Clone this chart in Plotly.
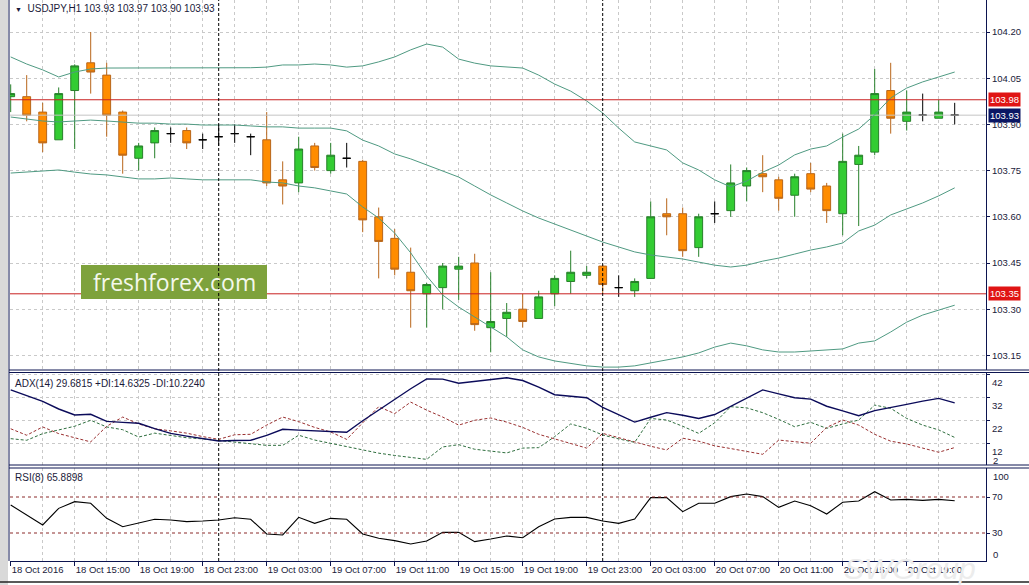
import plotly.graph_objects as go
import pandas as pd

# ---------------- data ----------------
bar_start = "2016-10-18 11:00"

open_ = [103.99, 103.99, 103.94, 103.85, 104.01, 104.10, 104.06, 103.94, 103.79, 103.84,
         103.87, 103.88, 103.85, 103.86, 103.87, 103.86, 103.85, 103.72, 103.71, 103.83,
         103.75, 103.79, 103.78, 103.60, 103.53, 103.42, 103.35, 103.37, 103.43, 103.45,
         103.24, 103.27, 103.30, 103.27, 103.35, 103.39, 103.41, 103.44, 103.37, 103.36,
         103.40, 103.61, 103.61, 103.50, 103.61, 103.62, 103.70, 103.74, 103.72, 103.67,
         103.74, 103.70, 103.61, 103.77, 103.81, 104.01, 103.91, 103.93, 103.92, 103.93]
high = [104.03, 104.06, 103.97, 104.02, 104.095, 104.20, 104.10, 103.945, 103.84, 103.89,
        103.89, 103.89, 103.87, 103.90, 103.90, 103.87, 103.94, 103.78, 103.86, 103.84,
        103.84, 103.84, 103.785, 103.63, 103.56, 103.50, 103.385, 103.45, 103.47, 103.48,
        103.42, 103.32, 103.35, 103.36, 103.41, 103.49, 103.44, 103.445, 103.41, 103.40,
        103.65, 103.66, 103.63, 103.61, 103.65, 103.77, 103.76, 103.80, 103.73, 103.74,
        103.775, 103.71, 103.87, 103.83, 104.08, 104.10, 104.01, 104.00, 103.98, 103.97]
low = [103.94, 103.91, 103.81, 103.85, 103.82, 104.00, 103.86, 103.74, 103.75, 103.79,
       103.84, 103.82, 103.82, 103.83, 103.84, 103.80, 103.70, 103.64, 103.68, 103.75,
       103.74, 103.76, 103.55, 103.40, 103.41, 103.24, 103.24, 103.30, 103.33, 103.23,
       103.16, 103.21, 103.24, 103.27, 103.31, 103.35, 103.40, 103.35, 103.34, 103.34,
       103.40, 103.54, 103.47, 103.47, 103.58, 103.60, 103.65, 103.68, 103.62, 103.60,
       103.68, 103.58, 103.54, 103.57, 103.80, 103.87, 103.88, 103.91, 103.92, 103.90]
close = [104.00, 103.93, 103.84, 104.00, 104.09, 104.07, 103.93, 103.80, 103.83, 103.88,
         103.87, 103.84, 103.85, 103.86, 103.87, 103.86, 103.71, 103.70, 103.82, 103.76,
         103.80, 103.79, 103.59, 103.52, 103.43, 103.36, 103.38, 103.44, 103.44, 103.25,
         103.26, 103.29, 103.26, 103.34, 103.40, 103.42, 103.42, 103.38, 103.37, 103.39,
         103.60, 103.60, 103.49, 103.60, 103.61, 103.71, 103.75, 103.73, 103.66, 103.73,
         103.69, 103.62, 103.78, 103.80, 104.00, 103.92, 103.94, 103.93, 103.94, 103.93]

bb_upper = [104.119, 104.096, 104.077, 104.054, 104.070, 104.080, 104.083, 104.083, 104.083, 104.083,
            104.082, 104.083, 104.083, 104.083, 104.084, 104.084, 104.086, 104.093, 104.093, 104.096,
            104.093, 104.086, 104.090, 104.103, 104.119, 104.142, 104.161, 104.151, 104.112, 104.099,
            104.090, 104.086, 104.083, 104.060, 104.031, 104.008, 103.976, 103.937, 103.888, 103.843,
            103.830, 103.817, 103.775, 103.752, 103.720, 103.697, 103.716, 103.745, 103.768, 103.801,
            103.820, 103.830, 103.859, 103.885, 103.931, 103.986, 104.018, 104.038, 104.054, 104.070]
bb_middle = [103.924, 103.917, 103.911, 103.908, 103.911, 103.914, 103.911, 103.908, 103.904, 103.904,
             103.901, 103.901, 103.898, 103.898, 103.898, 103.895, 103.892, 103.892, 103.888, 103.888,
             103.888, 103.879, 103.849, 103.830, 103.804, 103.788, 103.768, 103.749, 103.729, 103.700,
             103.671, 103.645, 103.619, 103.596, 103.577, 103.557, 103.538, 103.518, 103.502, 103.486,
             103.476, 103.469, 103.463, 103.453, 103.443, 103.437, 103.443, 103.456, 103.466, 103.479,
             103.492, 103.502, 103.515, 103.554, 103.573, 103.606, 103.625, 103.645, 103.668, 103.694]
bb_lower = [103.742, 103.745, 103.749, 103.752, 103.745, 103.739, 103.736, 103.729, 103.723, 103.723,
            103.726, 103.723, 103.720, 103.720, 103.720, 103.720, 103.713, 103.710, 103.700, 103.694,
            103.684, 103.674, 103.632, 103.596, 103.547, 103.483, 103.408, 103.346, 103.307, 103.275,
            103.242, 103.210, 103.168, 103.145, 103.132, 103.125, 103.116, 103.112, 103.112, 103.116,
            103.125, 103.135, 103.145, 103.158, 103.177, 103.190, 103.181, 103.168, 103.161, 103.161,
            103.164, 103.168, 103.171, 103.190, 103.197, 103.226, 103.258, 103.281, 103.297, 103.313]

adx = [35.3, 32.8, 30.3, 27.0, 24.4, 24.7, 21.6, 21.2, 20.8, 18.5,
       16.4, 15.2, 14.0, 13.1, 13.3, 13.4, 15.5, 18.2, 17.8, 17.4,
       17.2, 16.9, 21.9, 26.6, 31.2, 35.8, 40.1, 40.0, 38.2, 39.0,
       39.8, 40.6, 39.4, 36.5, 33.2, 32.4, 31.9, 27.7, 24.6, 21.3,
       23.4, 25.4, 24.3, 22.9, 24.6, 28.2, 31.7, 35.3, 33.6, 31.9,
       31.3, 28.2, 26.2, 24.1, 26.3, 27.8, 29.0, 30.4, 31.6, 29.68]
plus_di = [14.1, 13.4, 16.3, 18.0, 19.5, 22.1, 19.2, 18.0, 14.8, 16.5,
           15.5, 14.5, 14.0, 13.3, 12.8, 11.8, 11.2, 11.2, 15.6, 13.5,
           12.0, 10.8, 9.0, 7.8, 6.8, 6.0, 5.1, 10.5, 11.5, 9.5,
           8.8, 7.9, 10.0, 10.2, 15.0, 20.5, 18.6, 15.7, 14.0, 12.5,
           22.9, 22.2, 19.5, 16.4, 21.0, 28.0, 27.5, 25.4, 22.5, 19.3,
           21.2, 18.6, 20.5, 22.2, 28.7, 27.3, 22.9, 20.0, 17.9, 14.63]
minus_di = [18.4, 15.6, 19.2, 16.3, 14.5, 12.7, 19.5, 23.5, 20.5, 18.4,
            17.5, 16.5, 15.0, 13.8, 15.8, 16.0, 20.0, 23.5, 21.5, 19.0,
            17.0, 13.8, 21.0, 28.0, 25.0, 30.0, 26.5, 23.5, 20.0, 22.1,
            23.1, 21.3, 19.0, 16.0, 14.0, 12.0, 10.0, 16.4, 14.5, 12.5,
            10.8, 9.2, 14.3, 13.0, 11.0, 9.8, 8.5, 7.3, 13.5, 12.8,
            12.1, 19.0, 22.2, 20.0, 16.0, 13.0, 11.8, 10.0, 8.2, 10.22]
rsi = [61.1, 50.0, 38.9, 57.4, 64.8, 63.0, 46.3, 37.0, 40.7, 45.2,
       44.4, 42.6, 43.3, 44.4, 47.0, 45.2, 28.9, 27.8, 47.4, 40.7,
       46.3, 45.2, 28.9, 24.1, 21.5, 17.8, 21.1, 30.7, 30.7, 20.4,
       23.3, 26.7, 24.8, 37.0, 45.6, 47.4, 47.4, 43.3, 40.7, 45.6,
       69.3, 69.3, 53.7, 63.0, 63.0, 70.4, 73.3, 70.4, 58.5, 65.6,
       60.4, 51.1, 64.1, 65.6, 75.9, 66.7, 67.4, 66.3, 67.4, 65.89]

price_ticks = [103.15, 103.30, 103.45, 103.60, 103.75, 103.90, 104.05, 104.20]
adx_ticks = [12, 22, 32, 42]
rsi_levels = [30, 70]
hlines = [103.98, 103.35]
bid_price = 103.93
x_tick_labels = ["18 Oct 2016", "18 Oct 15:00", "18 Oct 19:00", "18 Oct 23:00",
                 "19 Oct 03:00", "19 Oct 07:00", "19 Oct 11:00", "19 Oct 15:00",
                 "19 Oct 19:00", "19 Oct 23:00", "20 Oct 03:00", "20 Oct 07:00",
                 "20 Oct 11:00", "20 Oct 15:00", "20 Oct 19:00"]

n = len(close)
for arr in (open_, high, low, bb_upper, bb_middle, bb_lower, adx, plus_di, minus_di, rsi):
    assert len(arr) == n, len(arr)

times = pd.date_range(bar_start, periods=n, freq="h")
xs = list(range(n))
label_pos = [i for i in xs if times[i].hour % 4 == 3]
grid_pos = [i for i in xs if i % 2 == 0]
day_sep = [i for i in xs if times[i].hour == 0]

# ---------------- styling ----------------
W, H = 1029, 585
ML, MR, MT, MB = 10, 43, 0, 24
PW, PH = W - ML - MR, H - MT - MB
def py(px):  # pixel row -> paper y
    return 1 - (px - MT) / PH
def pxx(px):  # pixel col -> paper x
    return (px - ML) / PW

NAVY = "#0c1450"
GRID = "#c9c9c9"
FONT = "Liberation Sans, Arial"
tickfont = dict(family=FONT, size=9.5, color="#1a1a3a")
BB_COL = "#4f9a82"

fig = go.Figure()

def sel(idx, arr):
    return [arr[i] for i in idx]

bull = [i for i in xs if close[i] > open_[i]]
bear = [i for i in xs if close[i] < open_[i]]
doji = [i for i in xs if close[i] == open_[i]]

fig.add_trace(go.Scatter(x=[-1, n + 2], y=[bid_price, bid_price], mode="lines",
                         line=dict(color="#c4c4c4", width=1), hoverinfo="skip",
                         showlegend=False, xaxis="x", yaxis="y"))
for nm, arr in (("upper", bb_upper), ("middle", bb_middle), ("lower", bb_lower)):
    fig.add_trace(go.Scatter(x=xs, y=arr, mode="lines", name=nm,
                             line=dict(color=BB_COL, width=1), showlegend=False,
                             xaxis="x", yaxis="y"))

for idx, fill, line in ((bull, "#33cc33", "#27802a"),
                        (bear, "#ff8c00", "#b8661a"),
                        (doji, "#000000", "#000000")):
    fig.add_trace(go.Candlestick(
        x=idx, open=sel(idx, open_), high=sel(idx, high), low=sel(idx, low), close=sel(idx, close),
        increasing=dict(fillcolor=fill, line=dict(color=line, width=1)),
        decreasing=dict(fillcolor=fill, line=dict(color=line, width=1)),
        whiskerwidth=0, showlegend=False, xaxis="x", yaxis="y"))

fig.add_trace(go.Scatter(x=xs, y=plus_di, mode="lines", line=dict(color="#2e6e3e", width=1, dash="3px,2px"),
                         showlegend=False, xaxis="x2", yaxis="y2"))
fig.add_trace(go.Scatter(x=xs, y=minus_di, mode="lines", line=dict(color="#9a3030", width=1, dash="3px,2px"),
                         showlegend=False, xaxis="x2", yaxis="y2"))
fig.add_trace(go.Scatter(x=xs, y=adx, mode="lines", line=dict(color="#0b0b5a", width=1.4),
                         showlegend=False, xaxis="x2", yaxis="y2"))
fig.add_trace(go.Scatter(x=xs, y=rsi, mode="lines", line=dict(color="#000000", width=1.1),
                         showlegend=False, xaxis="x3", yaxis="y3"))

xr = [(ML - 10.7) / 16.0, (ML + PW - 10.7) / 16.0]
common_x = dict(range=xr, showgrid=True, gridcolor=GRID, griddash="3px,3px", gridwidth=1,
                tickvals=label_pos, zeroline=False, automargin=False, tickangle=0,
                minor=dict(tickvals=grid_pos, showgrid=True, gridcolor=GRID, griddash="3px,3px", ticks=""))

main_dom = [py(370), 1]
adx_dom = [py(465), py(372)]
rsi_dom = [0, py(468)]

ymain_range = [104.20 - (370 - 32) / 308.0, 104.20 + 32 / 308.0]
adx_range = [32 - (465 - 397.5) / 2.3, 32 + (397.5 - 372) / 2.3]
rsi_range = [70 - (561 - 497) / 0.9, 70 + (497 - 468) / 0.9]

axis_common_y = dict(side="right", showline=True, linecolor=NAVY, linewidth=1, automargin=False,
                     ticks="outside", ticklen=3, tickcolor=NAVY, tickfont=tickfont, zeroline=False)

fig.update_layout(
    width=W, height=H, margin=dict(l=ML, r=MR, t=MT, b=MB, autoexpand=False),
    paper_bgcolor="white", plot_bgcolor="white", showlegend=False,
    xaxis=dict(**common_x, anchor="y", showticklabels=False, ticks="",
               rangeslider=dict(visible=False)),
    xaxis2=dict(**common_x, anchor="y2", matches="x", showticklabels=False, ticks=""),
    xaxis3=dict(**common_x, anchor="y3", matches="x", showticklabels=True,
                ticktext=x_tick_labels, ticks="outside", ticklen=4, tickcolor=NAVY,
                ticklabelposition="outside right", tickfont=tickfont,
                showline=True, linecolor=NAVY, linewidth=1),
    yaxis=dict(**axis_common_y, domain=main_dom, anchor="x", range=ymain_range,
               tickvals=price_ticks, ticktext=[f"{v:.2f}" for v in price_ticks],
               showgrid=True, gridcolor=GRID, griddash="3px,3px"),
    yaxis2=dict(**axis_common_y, domain=adx_dom, anchor="x2", range=adx_range,
                tickvals=adx_ticks, ticktext=[str(v) for v in adx_ticks], ticklabelshift=8,
                showgrid=True, gridcolor=GRID, griddash="3px,3px"),
    yaxis3=dict(**axis_common_y, domain=rsi_dom, anchor="x3", range=rsi_range,
                tickvals=rsi_levels, ticktext=[str(v) for v in rsi_levels], showgrid=False),
)

shapes = []
shapes.append(dict(type="rect", xref="paper", yref="paper", x0=pxx(0), x1=pxx(8), y0=py(H), y1=1,
                   fillcolor="#d9d9d9", line=dict(width=0), layer="above"))
shapes.append(dict(type="line", xref="paper", yref="paper", x0=pxx(9), x1=pxx(9), y0=py(561), y1=1,
                   line=dict(color=NAVY, width=1), layer="above"))
shapes.append(dict(type="line", xref="paper", yref="paper", x0=pxx(0), x1=pxx(W), y0=py(582), y1=py(582),
                   line=dict(color="#222222", width=1.5), layer="above"))
for yy in (370, 372.5, 465, 468):
    shapes.append(dict(type="line", xref="paper", yref="paper", x0=pxx(9), x1=pxx(W), y0=py(yy), y1=py(yy),
                       line=dict(color=NAVY, width=1), layer="above"))
for lv in hlines:
    shapes.append(dict(type="line", xref="x domain", yref="y", x0=0, x1=1, y0=lv, y1=lv,
                       line=dict(color="#c82020", width=1), layer="above"))
shapes.append(dict(type="rect", xref="paper", yref="paper", x0=pxx(81), x1=pxx(267), y0=py(299), y1=py(265),
                   fillcolor="#7ea23c", line=dict(width=0), layer="above"))
for lv in rsi_levels:
    shapes.append(dict(type="line", xref="x3 domain", yref="y3", x0=0, x1=1, y0=lv, y1=lv,
                       line=dict(color="#8b2a2a", width=1, dash="3px,3px"), layer="above"))
for d in day_sep:
    shapes.append(dict(type="line", xref="x", yref="paper", x0=d, x1=d, y0=0, y1=1,
                       line=dict(color="#000000", width=1, dash="3px,2px"), layer="above"))
fig.update_layout(shapes=shapes)

txt = dict(family=FONT, size=10, color="#1a1a3a")
ann = []
ann.append(dict(xref="paper", yref="paper", x=pxx(13), y=py(9), xanchor="left", yanchor="middle",
                text="<span style='font-size:7px'>▼</span>  USDJPY,H1 103.93 103.97 103.90 103.93",
                showarrow=False, font=txt))
ann.append(dict(xref="paper", yref="paper", x=pxx(13), y=py(383), xanchor="left", yanchor="middle",
                text="ADX(14) 29.6815 +DI:14.6325 -DI:10.2240", showarrow=False, font=txt))
ann.append(dict(xref="paper", yref="paper", x=pxx(13), y=py(477), xanchor="left", yanchor="middle",
                text="RSI(8) 65.8898", showarrow=False, font=txt))
for t, yy in (("2", 460), ("100", 476), ("0", 554)):
    ann.append(dict(xref="paper", yref="paper", x=pxx(991), y=py(yy), xanchor="left", yanchor="middle",
                    text=t, showarrow=False, font=tickfont))
for lv, col in ((hlines[0], "#e01414"), (bid_price, "#0a1664"), (hlines[1], "#e01414")):
    ann.append(dict(xref="paper", yref="y", x=pxx(988), y=lv, xanchor="left", yanchor="middle",
                    text=f"{lv:.2f}", showarrow=False, bgcolor=col, borderpad=1,
                    font=dict(family=FONT, size=9.5, color="white")))
ann.append(dict(xref="paper", yref="paper", x=pxx(174), y=py(282), xanchor="center", yanchor="middle",
                text="freshforex.com", showarrow=False,
                font=dict(family="Open Sans, Noto Sans, sans-serif", size=23, color="#f4f8ec")))
ann.append(dict(xref="paper", yref="paper", x=pxx(910), y=py(568), xanchor="center", yanchor="middle",
                text="<i>SWGroup</i>", showarrow=False,
                font=dict(family="Liberation Sans", size=30, color="#ececec")))
fig.update_layout(annotations=ann)

fig.write_html("out.html", config={"displayModeBar": False},
               post_script="document.body.style.margin='0';document.body.style.overflow='hidden';")
